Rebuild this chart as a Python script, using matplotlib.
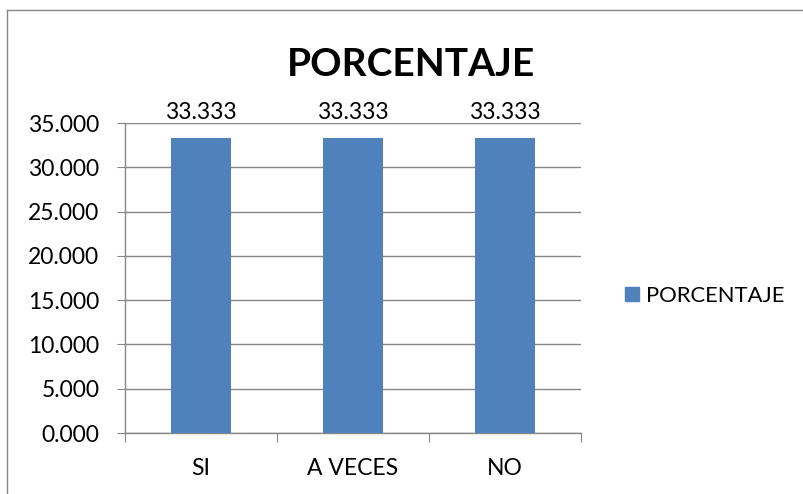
import matplotlib.pyplot as plt
from matplotlib.lines import Line2D
from matplotlib.patches import Patch

categorias = ["SI", "A VECES", "NO"]
porcentaje = [33.333, 33.333, 33.333]
ticks_y = [0, 5, 10, 15, 20, 25, 30, 35]

plt.rcParams['font.family'] = ['Lato', 'DejaVu Sans']

fig = plt.figure(figsize=(8.04, 4.94), dpi=100)
W, H = 804, 494
# area del grafico en pixeles: x 125..581, y 123..433
ax = fig.add_axes([125 / W, 1 - 433 / H, (581 - 125) / W, (433 - 123) / H])

azul = "#4f81bd"
gris = "#868686"
fs = 16.5
x = range(len(categorias))
ax.bar(x, porcentaje, width=0.395, color=azul, zorder=3)

for xi, v in zip(x, porcentaje):
    ax.annotate(f"{v:.3f}", (xi, v), xytext=(0, 19), textcoords="offset pixels",
                ha="center", va="baseline", fontsize=fs)

ax.set_xlim(-0.5, len(categorias) - 0.5)
ax.set_ylim(0, 35)
ax.set_yticks(ticks_y)
ax.set_yticklabels([f"{t:.3f}" for t in ticks_y], fontsize=fs)
ax.grid(axis="y", color=gris, linewidth=1.0, zorder=0)

ax.set_xticks([i - 0.5 for i in range(len(categorias) + 1)])
ax.set_xticklabels([])
ax.set_xticks(list(x), minor=True)
ax.set_xticklabels(categorias, minor=True, fontsize=fs)
ax.tick_params(axis="x", which="major", direction="out", length=6.5, color=gris)
ax.tick_params(axis="x", which="minor", length=0, pad=18)
ax.tick_params(axis="y", direction="out", length=6, color=gris, pad=12.5)

for s in ["top", "right"]:
    ax.spines[s].set_visible(False)
for s in ["left", "bottom"]:
    ax.spines[s].set_color(gris)
    ax.spines[s].set_linewidth(1.0)

fig.text(411 / W, 1 - 76 / H, "PORCENTAJE", ha="center", va="baseline",
         fontsize=28, fontweight="bold")

handles = [Patch(facecolor=azul, edgecolor=azul)]
fig.legend(handles, ["PORCENTAJE"], loc="center left",
           bbox_to_anchor=(625 / W, 1 - 296 / H), frameon=False, fontsize=15.8,
           handlelength=0.62, handleheight=0.62, handletextpad=0.35,
           borderpad=0, borderaxespad=0)

# borde exterior del grafico
fig.add_artist(Line2D([7 / W, 7 / W], [0, 1 - 10 / H], transform=fig.transFigure,
                      color=gris, linewidth=1))
fig.add_artist(Line2D([7 / W, 1], [1 - 10 / H, 1 - 10 / H], transform=fig.transFigure,
                      color=gris, linewidth=1))

fig.savefig("out.png", dpi=100)
